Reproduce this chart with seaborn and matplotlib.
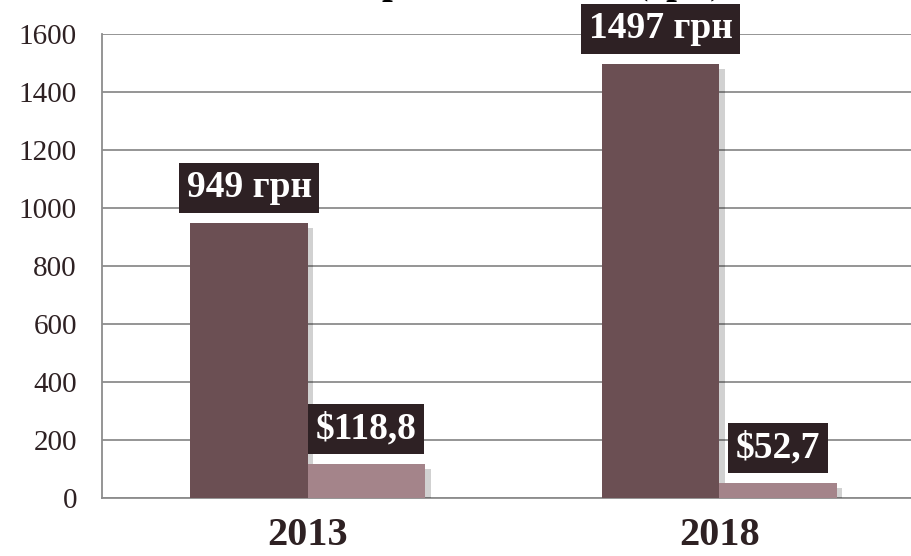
import pandas as pd
import numpy as np
import seaborn as sns
import matplotlib.pyplot as plt
import matplotlib.patheffects as pe

years = ["2013", "2018"]
series = ["грн", "usd"]
uah = [949, 1497]
usd = [118.8, 52.7]
labels_uah = ["949 грн", "1497 грн"]
labels_usd = ["$118,8", "$52,7"]
yticks = [0, 200, 400, 600, 800, 1000, 1200, 1400, 1600]

df = pd.DataFrame({
    "year": years * 2,
    "series": [series[0]] * 2 + [series[1]] * 2,
    "value": uah + usd,
})

sns.set_theme(style="white")
plt.rcParams["font.family"] = ["Liberation Serif", "DejaVu Serif"]

fig = plt.figure(figsize=(9.12, 5.56), dpi=100)
ax = fig.add_axes([102 / 912, 1 - 498 / 556, 823 / 912, 464 / 556])

pal = {"грн": "#6b4f53", "usd": "#a4848a"}
sns.barplot(data=df, x="year", y="value", hue="series", palette=pal,
            width=0.57, saturation=1, ax=ax, legend=False, zorder=3)

# soft-ish drop shadow like the original
shadow = [pe.SimplePatchShadow(offset=(4, -4), shadow_rgbFace="#000000", alpha=0.18), pe.Normal()]
for p in ax.patches:
    p.set_linewidth(0)
    p.set_path_effects(shadow)

ax.set_xlim(-0.5, 1.5)
ax.set_ylim(0, 1600)
ax.set_yticks(yticks)
ax.yaxis.grid(True, color="#8c8c8c", linewidth=1.3, zorder=0)
ax.set_axisbelow(True)
for s in ["top", "right"]:
    ax.spines[s].set_visible(False)
for s in ["left", "bottom"]:
    ax.spines[s].set_color("#8c8c8c")
    ax.spines[s].set_linewidth(1.3)

ax.set_xlabel("")
ax.set_ylabel("")
ax.set_xticks([-0.5, 0.5, 1.5], minor=True)
ax.tick_params(axis="x", which="major", length=0, pad=14)
ax.tick_params(axis="x", which="minor", length=12, width=1.3, color="#8c8c8c", direction="out")
ax.tick_params(axis="y", length=10, width=1.3, color="#8c8c8c", direction="out", pad=8,
               labelsize=21, labelcolor="#2e2123")
ax.set_xticks([0, 1])
ax.set_xticklabels(years, fontsize=29, fontweight="bold", color="#2e2123")

box = dict(boxstyle="square,pad=0.2", facecolor="#2e2124", edgecolor="none")
bw = 0.57 / 2
for i in range(len(years)):
    ax.text(i - bw / 2, uah[i] + 60, labels_uah[i], ha="center", va="bottom",
            fontsize=27, fontweight="bold", color="white", bbox=box, zorder=5, clip_on=False)
    ax.text(i + bw / 2, usd[i] + 60, labels_usd[i], ha="center", va="bottom",
            fontsize=27, fontweight="bold", color="white", bbox=box, zorder=5)

# title is mostly cut off above the figure in the original
fig.text(0.466, 1 + 7 / 556, "Мінімальна заробітна плата (грн)", ha="center", va="baseline",
         fontsize=28, fontweight="bold", color="black")

fig.savefig("out.png", dpi=100)
